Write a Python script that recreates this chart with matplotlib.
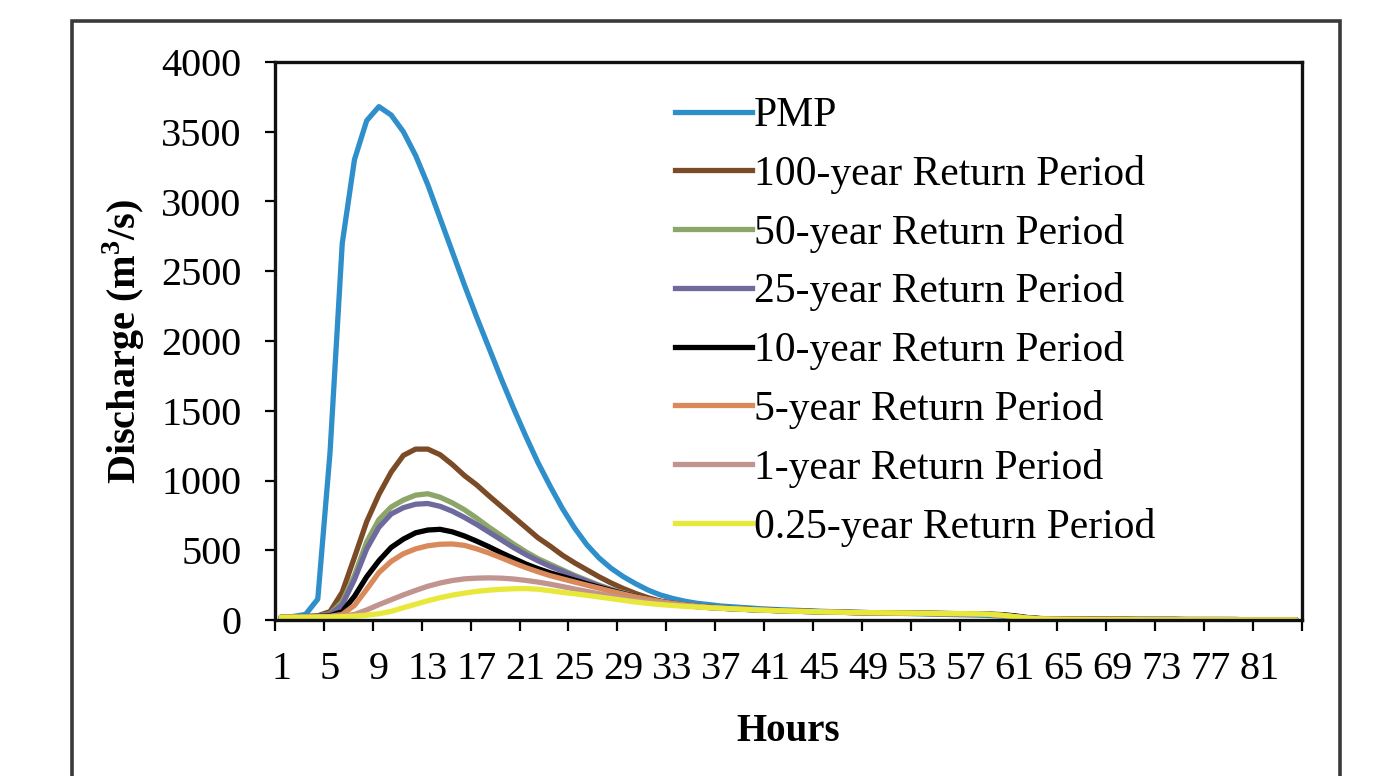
#!/usr/bin/env python3
"""Flood hydrographs for PMP and return periods (Excel-style line chart)."""

import matplotlib

matplotlib.use("Agg")
import matplotlib.pyplot as plt
from matplotlib.patches import Rectangle

hours = list(range(1, 85))

pmp = [20, 25, 40, 150, 1200, 2700, 3300, 3580, 3680, 3620,
       3500, 3330, 3120, 2880, 2640, 2400, 2170, 1950, 1730, 1520,
       1320, 1130, 960, 800, 660, 540, 445, 370, 310, 260,
       215, 180, 155, 135, 120, 110, 100, 94, 88, 82,
       77, 73, 70, 66, 63, 60, 57, 55, 53, 51,
       49, 47, 45, 43, 41, 39, 37, 35, 32, 27,
       20, 14, 9, 6, 5, 4, 4, 3, 3, 3,
       2, 2, 2, 2, 2, 1, 1, 1, 1, 1,
       1, 0, 0, 0]
rp100 = [20, 22, 25, 30, 60, 200, 450, 705, 900, 1060,
         1180, 1225, 1225, 1185, 1115, 1035, 968, 890, 815, 740,
         665, 590, 530, 465, 410, 360, 310, 265, 225, 190,
         160, 135, 118, 105, 96, 89, 84, 80, 76, 72,
         69, 66, 63, 61, 59, 57, 55, 53, 52, 51,
         50, 49, 48, 47, 46, 45, 44, 43, 40, 33,
         24, 15, 10, 8, 7, 6, 6, 5, 5, 5,
         4, 4, 4, 4, 3, 3, 3, 3, 3, 2,
         2, 2, 2, 2]
rp50 = [20, 22, 24, 28, 45, 130, 320, 560, 720, 810,
        860, 895, 905, 880, 840, 790, 730, 665, 605, 545,
        490, 440, 400, 360, 320, 285, 250, 220, 195, 170,
        150, 132, 118, 107, 98, 91, 85, 80, 76, 72,
        69, 66, 63, 61, 59, 57, 55, 53, 52, 51,
        50, 49, 48, 47, 46, 45, 44, 43, 40, 33,
        24, 15, 10, 8, 7, 6, 6, 5, 5, 5,
        4, 4, 4, 4, 3, 3, 3, 3, 3, 2,
        2, 2, 2, 2]
rp25 = [20, 22, 24, 27, 40, 110, 290, 510, 665, 760,
        805, 830, 835, 815, 780, 735, 685, 630, 575, 520,
        470, 425, 385, 350, 312, 278, 245, 216, 190, 167,
        147, 130, 116, 105, 97, 90, 85, 80, 76, 72,
        69, 66, 63, 61, 59, 57, 55, 53, 52, 51,
        50, 49, 48, 47, 46, 45, 44, 43, 40, 33,
        24, 15, 10, 8, 7, 6, 6, 5, 5, 5,
        4, 4, 4, 4, 3, 3, 3, 3, 3, 2,
        2, 2, 2, 2]
rp10 = [20, 22, 23, 25, 30, 60, 170, 310, 425, 520,
        580, 625, 645, 650, 632, 602, 565, 525, 482, 442,
        402, 368, 338, 312, 286, 260, 235, 211, 189, 169,
        150, 134, 120, 108, 99, 92, 86, 81, 77, 73,
        70, 67, 64, 62, 60, 58, 56, 54, 53, 52,
        51, 50, 49, 48, 47, 46, 45, 44, 42, 38,
        30, 18, 11, 8, 7, 6, 6, 5, 5, 5,
        4, 4, 4, 4, 3, 3, 3, 3, 3, 2,
        2, 2, 2, 2]
rp5 = [20, 21, 22, 24, 26, 40, 105, 220, 340, 420,
       475, 510, 532, 543, 545, 535, 510, 480, 446, 410,
       376, 346, 318, 295, 272, 250, 228, 206, 186, 166,
       149, 133, 120, 109, 100, 92, 86, 81, 77, 73,
       69, 66, 63, 61, 59, 57, 55, 53, 52, 51,
       50, 49, 48, 47, 46, 45, 44, 43, 40, 33,
       24, 15, 10, 8, 7, 6, 6, 5, 5, 5,
       4, 4, 4, 4, 3, 3, 3, 3, 3, 2,
       2, 2, 2, 2]
rp1 = [20, 20, 21, 22, 24, 28, 40, 72, 110, 145,
       180, 212, 242, 265, 283, 295, 300, 302, 300, 294,
       284, 272, 257, 240, 222, 205, 188, 172, 157, 143,
       131, 120, 111, 103, 96, 90, 85, 80, 76, 72,
       69, 66, 63, 61, 59, 57, 55, 53, 52, 51,
       50, 49, 48, 47, 46, 45, 44, 43, 40, 33,
       24, 15, 10, 8, 7, 7, 6, 6, 6, 5,
       5, 5, 5, 4, 4, 4, 4, 4, 3, 3,
       3, 3, 3, 3]
rp025 = [20, 20, 20, 21, 22, 24, 28, 35, 45, 62,
         88, 113, 138, 160, 178, 193, 205, 214, 220, 224,
         225, 221, 210, 198, 188, 177, 165, 153, 141, 129,
         119, 111, 104, 98, 93, 88, 84, 80, 76, 72,
         69, 66, 63, 61, 59, 57, 55, 54, 53, 52,
         51, 50, 49, 48, 47, 46, 45, 44, 41, 34,
         24, 14, 8, 5, 4, 3, 3, 2, 2, 2,
         2, 1, 1, 1, 1, 1, 1, 1, 0, 0,
         0, 0, 0, 0]

labels = ["PMP", "100-year Return Period", "50-year Return Period",
          "25-year Return Period", "10-year Return Period",
          "5-year Return Period", "1-year Return Period",
          "0.25-year Return Period"]
series = [pmp, rp100, rp50, rp25, rp10, rp5, rp1, rp025]
colors = ["#2f8fca", "#7b4a26", "#8ca66a", "#6f6a9e", "#000000",
          "#d9895a", "#c2948f", "#e8e83a"]

yticks = list(range(0, 4001, 500))

plt.rcParams.update({
    "font.family": ["Liberation Serif", "DejaVu Serif"],
    "mathtext.fontset": "custom",
    "mathtext.rm": "Liberation Serif",
    "mathtext.bf": "Liberation Serif:bold",
})

fig = plt.figure(figsize=(13.76, 7.76), dpi=100)
ax = fig.add_axes([275 / 1376, 1 - 620 / 776, 1027 / 1376, 558 / 776])

# outer chart frame, open at the bottom
fig.patches.append(Rectangle((72 / 1376, -0.2), (1340 - 72) / 1376, 0.2 + 1 - 21 / 776,
                             transform=fig.transFigure, fill=False,
                             edgecolor="#3a3a3a", linewidth=2.6))

pos = list(range(len(hours)))
for vals, col in zip(series, colors):
    ax.plot(pos, vals, color=col, linewidth=3.8, solid_capstyle="round")

ax.set_xlim(-0.5, len(hours) - 0.5)
ax.set_ylim(0, 4000)

ax.set_yticks(yticks)
ax.set_yticklabels([str(v) for v in yticks], fontsize=29)
ax.tick_params(axis="y", direction="out", length=7, width=1.6, pad=17)

major = pos[::4]
ax.set_xticks(major)
ax.set_xticklabels([str(hours[i]) for i in major], fontsize=29)
ax.set_xticks([p - 0.5 for p in range(0, len(hours) + 1, 4)], minor=True)
ax.tick_params(axis="x", which="major", length=0, pad=22)
ax.tick_params(axis="x", which="minor", direction="out", length=8, width=1.6)

for sp in ax.spines.values():
    sp.set_linewidth(2.4)
    sp.set_color("#111111")

ax.set_xlabel("Hours", fontsize=28, fontweight="bold", labelpad=18)
ax.set_ylabel(r"Discharge (m$^\mathbf{3}$/s)", fontsize=29, fontweight="bold", labelpad=10)

handles = [plt.Line2D([], [], color=c, linewidth=3.8) for c in colors]
ax.legend(handles, labels, loc="upper left", bbox_to_anchor=(0.389, 0.938),
          frameon=False, fontsize=30, handlelength=1.85, handletextpad=0.05,
          labelspacing=0.475, borderpad=0, borderaxespad=0)

fig.savefig("out.png", dpi=100, facecolor="white")
